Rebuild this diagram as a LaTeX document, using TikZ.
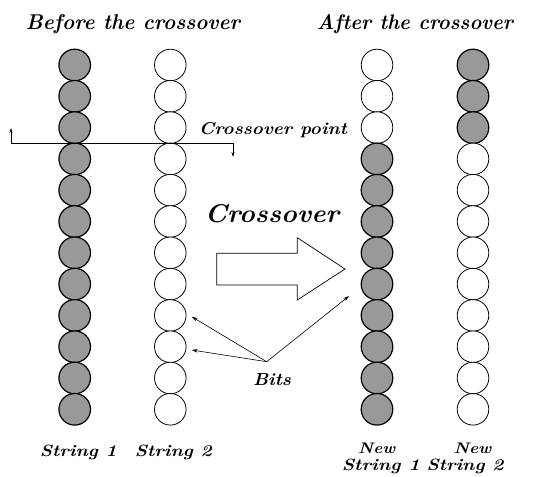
\documentclass[tikz,border=0pt]{standalone}
\usepackage{graphicx}
\usetikzlibrary{arrows.meta}
\newcommand\fitto[3]{\resizebox{#1}{#2}{#3}}
\begin{document}
\begin{tikzpicture}[x=1bp,y=-1bp,
  bit/.style={circle,draw=black,line width=0.8bp,minimum size=31.6bp,inner sep=0pt},
  on/.style={bit,fill=black!40,line width=1.2bp},
  off/.style={bit,fill=white},
  lbl/.style={font=\bfseries\itshape,inner sep=0pt,anchor=base},
  ptr/.style={line width=0.6bp,-{Stealth[length=6bp,width=3.5bp]}},
  cut/.style={line width=0.7bp}]
\useasboundingbox (0,0) rectangle (548,477);
\foreach \i in {1,...,12}{
  \pgfmathsetmacro\yy{65+31.3*(\i-1)}
  \node[on] (a\i) at (74.7,\yy) {};
  \node[off] (b\i) at (170.3,\yy) {};
  \ifnum\i<4
    \node[off] (c\i) at (377,\yy) {};
    \node[on] (d\i) at (473,\yy) {};
  \else
    \node[on] (c\i) at (377,\yy) {};
    \node[off] (d\i) at (473,\yy) {};
  \fi
}
% titles
\node[lbl] (before) at (133,30) {\fitto{214bp}{15bp}{Before the crossover}};
\node[lbl] (after) at (415,30) {\fitto{196bp}{15bp}{After the crossover}};
% crossover point
\node[lbl] (cpoint) at (273,135) {\fitto{148bp}{12bp}{Crossover point}};
\coordinate (cpUp) at (11,128);
\coordinate (cpL) at (11,143);
\coordinate (cpR) at (233,143);
\coordinate (cpDown) at (233,157);
\draw[cut,{Stealth[length=5bp,width=3bp]}-{Stealth[length=5bp,width=3bp]}] (cpUp) -- (cpL) -- (cpR) -- (cpDown);
% big arrow
\node[lbl] (xover) at (272,223) {\fitto{134bp}{18bp}{Crossover}};
\draw[line width=0.7bp] (216.7,253.3) -- (297.3,253.3) -- (297.3,237.7) -- (345,269)
  -- (297.3,300) -- (297.3,285) -- (216.7,285) -- cycle;
% bits
\node[lbl] (bits) at (272,385) {\fitto{38bp}{12bp}{Bits}};
\coordinate (bp) at (266.7,361.7);
\coordinate (t1) at (191.7,316.7);
\coordinate (t2) at (191.7,350);
\coordinate (t3) at (349,296);
\draw[ptr] (bp) -- (t1);
\draw[ptr] (bp) -- (t2);
\draw[ptr] (bp) -- (t3);
% string labels
\node[lbl] (s1) at (78.3,456) {\fitto{77bp}{11.5bp}{String 1}};
\node[lbl] (s2) at (173.3,456) {\fitto{77bp}{11.5bp}{String 2}};
\node[lbl] (n1) at (376.7,453) {\fitto{37bp}{10.5bp}{New}};
\node[lbl] (ns1) at (380.8,470) {\fitto{78bp}{11.5bp}{String 1}};
\node[lbl] (n2) at (472.5,453) {\fitto{38bp}{10.5bp}{New}};
\node[lbl] (ns2) at (465,470) {\fitto{77bp}{11.5bp}{String 2}};
\end{tikzpicture}
\end{document}
